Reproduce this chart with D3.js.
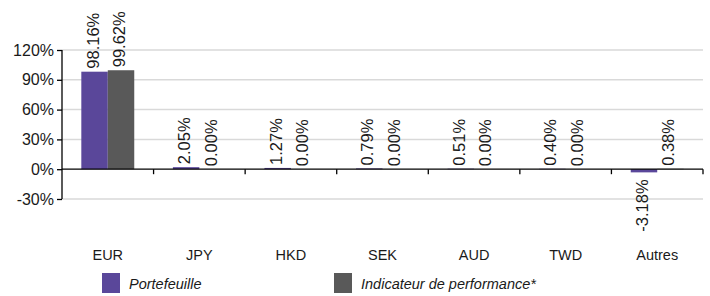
<!DOCTYPE html>
<html>
<head>
<meta charset="utf-8">
<script src="https://cdn.jsdelivr.net/npm/d3@7"></script>
<style>
  body { margin: 0; background: #fff; }
  text { font-family: "Liberation Sans", Arial, sans-serif; fill: #1a1a1a; }
</style>
</head>
<body>
<svg class="chart" width="710" height="296"></svg>
<script>
// devises
var categories = ["EUR", "JPY", "HKD", "SEK", "AUD", "TWD", "Autres"];
var portefeuille = [98.16, 2.05, 1.27, 0.79, 0.51, 0.40, -3.18];
var indicateur = [99.62, 0.00, 0.00, 0.00, 0.00, 0.00, 0.38];
var yTicks = [-30, 0, 30, 60, 90, 120];
var seriesNames = ["Portefeuille", "Indicateur de performance*"];
var colors = ["#5a479a", "#595959"];

var plotLeft = 62, plotRight = 703, plotTop = 50, plotBottom = 199;
var svg = d3.select(".chart");

var x = d3.scaleBand().domain(categories).range([plotLeft, plotRight]).paddingInner(0).paddingOuter(0);
var x1 = d3.scaleBand().domain([0, 1]).range([0, x.bandwidth()]).paddingInner(0).paddingOuter(0.73);
var y = d3.scaleLinear().domain([-30, 120]).range([plotBottom, plotTop]);

// grille
svg.append("g").selectAll("line")
  .data(yTicks.filter(function(d) { return d !== 0; }))
  .enter().append("line")
  .attr("x1", plotLeft).attr("x2", plotRight)
  .attr("y1", function(d) { return y(d); }).attr("y2", function(d) { return y(d); })
  .attr("stroke", "#d9d9d9").attr("stroke-width", 1.5);

var data = [];
categories.forEach(function(c, i) {
  data.push({ cat: c, s: 0, v: portefeuille[i] });
  data.push({ cat: c, s: 1, v: indicateur[i] });
});

svg.append("g").selectAll("rect")
  .data(data)
  .enter().append("rect")
  .attr("x", function(d) { return x(d.cat) + x1(d.s); })
  .attr("width", x1.bandwidth())
  .attr("y", function(d) { return y(Math.max(0, d.v)); })
  .attr("height", function(d) { return Math.abs(y(d.v) - y(0)); })
  .attr("fill", function(d) { return colors[d.s]; });

// axe y
var yAxis = svg.append("g")
  .attr("transform", "translate(" + plotLeft + ",0)")
  .call(d3.axisLeft(y).tickValues(yTicks).tickSize(5).tickPadding(3)
    .tickFormat(function(d) { return d + "%"; }));
yAxis.select(".domain").attr("stroke", "#000").attr("stroke-width", 1.3).attr("d", "M0," + y(-30) + "V" + y(120));
yAxis.selectAll(".tick line").attr("stroke", "#000").attr("stroke-width", 1.3);
yAxis.selectAll(".tick text").style("font-size", "16px").attr("fill", "#1a1a1a");

// ligne zéro et graduations
svg.append("line")
  .attr("x1", plotLeft).attr("x2", plotRight)
  .attr("y1", y(0)).attr("y2", y(0))
  .attr("stroke", "#000").attr("stroke-width", 1.3);
svg.append("g").selectAll("line")
  .data(categories.slice(1).concat(["end"]))
  .enter().append("line")
  .attr("x1", function(d) { return d === "end" ? plotRight : x(d); })
  .attr("x2", function(d) { return d === "end" ? plotRight : x(d); })
  .attr("y1", y(0)).attr("y2", y(0) + 5)
  .attr("stroke", "#000").attr("stroke-width", 1.3);

// étiquettes catégories
svg.append("g").selectAll("text")
  .data(categories)
  .enter().append("text")
  .attr("x", function(d) { return x(d) + x.bandwidth() / 2; })
  .attr("y", 260)
  .attr("text-anchor", "middle")
  .style("font-size", "14.5px")
  .text(function(d) { return d; });

// valeurs
svg.append("g").selectAll("text")
  .data(data)
  .enter().append("text")
  .attr("transform", function(d) {
    var cx = x(d.cat) + x1(d.s) + x1.bandwidth() / 2 - 2;
    var cy = d.v >= 0 ? y(d.v) - 3 : y(d.v) + 7;
    return "translate(" + cx + "," + cy + ") rotate(-90)";
  })
  .attr("text-anchor", function(d) { return d.v >= 0 ? "start" : "end"; })
  .attr("dominant-baseline", "central")
  .style("font-size", "16.5px")
  .text(function(d) { return d.v.toFixed(2) + "%"; });

// légende
var legendX = [102, 334];
var legend = svg.append("g").selectAll("g")
  .data(seriesNames)
  .enter().append("g")
  .attr("transform", function(d, i) { return "translate(" + legendX[i] + ",273)"; });
legend.append("rect").attr("width", 18).attr("height", 20)
  .attr("fill", function(d, i) { return colors[i]; });
legend.append("text").attr("x", 27).attr("y", 16)
  .style("font-size", "14.5px").style("font-style", "italic")
  .text(function(d) { return d; });
</script>
</body>
</html>
